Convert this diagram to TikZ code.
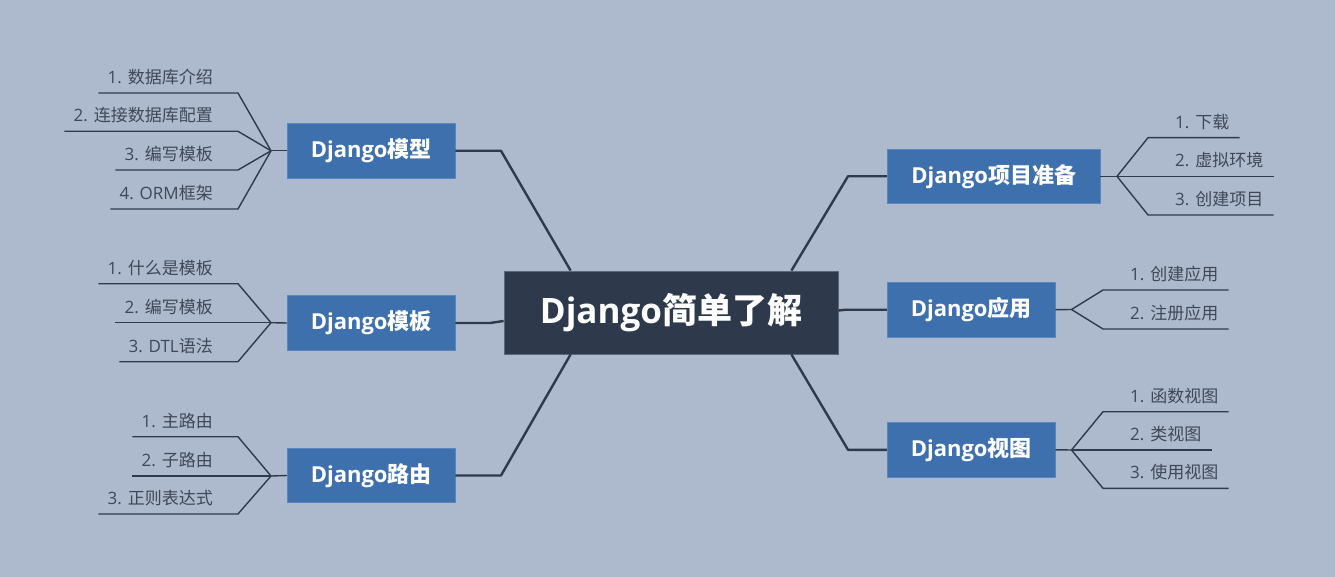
\documentclass[tikz,border=0pt]{standalone}
\usepackage{fontspec}
\setmainfont{Open Sans}
\newfontfamily\cjk{Noto Sans CJK SC}
\newcommand{\zhs}[1]{{\cjk #1}}
\usetikzlibrary{calc}
\definecolor{bg}{HTML}{ADBACE}
\definecolor{dark}{HTML}{2E3A4B}
\definecolor{darkedge}{HTML}{5B6879}
\definecolor{blue1}{HTML}{3F70AE}
\definecolor{blueedge}{HTML}{5A86BE}
\definecolor{ltxt}{HTML}{3E4858}
\definecolor{lline}{HTML}{2F3B4C}
\begin{document}
\begin{tikzpicture}[x=1pt,y=-1pt,
  root/.style={fill=dark, draw=darkedge, line width=0.8pt, minimum width=334pt, minimum height=83pt, text=white, font=\bfseries\fontsize{35}{40}\selectfont, inner sep=0pt},
  branch/.style={fill=blue1, draw=blueedge, line width=0.8pt, minimum height=54.5pt, text=white, font=\bfseries\fontsize{22}{26}\selectfont, inner sep=0pt},
  leaf/.style={text=ltxt, font=\fontsize{17}{20}\selectfont, inner sep=0pt},
  main/.style={draw=dark, line width=2.4pt, line join=round},
  sub/.style={draw=lline, line width=1.4pt, line join=round}]

\fill[bg] (0,0) rectangle (1335,577);

% root and branches
\node[root] (c) at (671,312.5) {Django\zhs{简单了解}};
\node[branch, minimum width=167.7pt] (bm) at (371.2,150.8) {Django\zhs{模型}};
\node[branch, minimum width=167.7pt] (bt) at (371.2,323) {Django\zhs{模板}};
\node[branch, minimum width=167.7pt] (br) at (371.2,475.5) {Django\zhs{路由}};
\node[branch, minimum width=212.7pt] (bp) at (993.7,176.3) {Django\zhs{项目准备}};
\node[branch, minimum width=167.7pt] (ba) at (971.2,309.7) {Django\zhs{应用}};
\node[branch, minimum width=167.7pt] (bv) at (971.2,449.8) {Django\zhs{视图}};

% main connectors
\draw[main] ([xshift=67pt]c.north west) -- (501,150.8) -- (bm.east);
\draw[main] ([yshift=-8.5pt]c.west) -- (490,323) -- (bt.east);
\draw[main] ([xshift=67pt]c.south west) -- (501,475.5) -- (br.east);
\draw[main] ([xshift=-47pt]c.north east) -- (848,176.3) -- (bp.west);
\draw[main] ([yshift=2pt]c.east) -- (846,309.7) -- (ba.west);
\draw[main] ([xshift=-47pt]c.south east) -- (848,449.8) -- (bv.west);

% junctions
\coordinate (jm) at (271,150.8);
\coordinate (jt) at (271,322.7);
\coordinate (jr) at (271,476);
\coordinate (jp) at (1117,176.3);
\coordinate (ja) at (1071.5,309.5);
\coordinate (jv) at (1071.5,450);

\draw[sub] (bm.west) -- (jm);
\draw[sub] (bt.west) -- (jt);
\draw[sub] (br.west) -- (jr);
\draw[sub] (bp.east) -- (jp);
\draw[sub] (ba.east) -- (ja);
\draw[sub] (bv.east) -- (jv);

% left leaves: Django模型
\node[leaf, anchor=base east] (m1) at (213,83.5) {1. \zhs{数据库介绍}};
\node[leaf, anchor=base east] (m2) at (213,121.8) {2. \zhs{连接数据库配置}};
\node[leaf, anchor=base east] (m3) at (213,160.5) {3. \zhs{编写模板}};
\node[leaf, anchor=base east] (m4) at (213,199.5) {4. ORM\zhs{框架}};
\foreach \n in {m1,m2,m3,m4}
  \draw[sub] (jm) -- ($(\n.base east)+(25,9.5)$) -- ($(\n.base west)+(-9,9.5)$);

% left leaves: Django模板
\node[leaf, anchor=base east] (t1) at (213,274.2) {1. \zhs{什么是模板}};
\node[leaf, anchor=base east] (t2) at (213,313.2) {2. \zhs{编写模板}};
\node[leaf, anchor=base east] (t3) at (213,352.2) {3. DTL\zhs{语法}};
\foreach \n in {t1,t2,t3}
  \draw[sub] (jt) -- ($(\n.base east)+(25,9.5)$) -- ($(\n.base west)+(-9,9.5)$);

% left leaves: Django路由
\node[leaf, anchor=base east] (r1) at (213,427.2) {1. \zhs{主路由}};
\node[leaf, anchor=base east] (r2) at (213,466.5) {2. \zhs{子路由}};
\node[leaf, anchor=base east] (r3) at (213,504.5) {3. \zhs{正则表达式}};
\foreach \n in {r1,r2,r3}
  \draw[sub] (jr) -- ($(\n.base east)+(25,9.5)$) -- ($(\n.base west)+(-9,9.5)$);

% right leaves: Django项目准备
\node[leaf, anchor=base west] (p1) at (1175,128.2) {1. \zhs{下载}};
\node[leaf, anchor=base west] (p2) at (1175,166.8) {2. \zhs{虚拟环境}};
\node[leaf, anchor=base west] (p3) at (1175,205.5) {3. \zhs{创建项目}};
\foreach \n in {p1,p2,p3}
  \draw[sub] (jp) -- ($(\n.base west)+(-27,9.5)$) -- ($(\n.base east)+(10,9.5)$);

% right leaves: Django应用
\node[leaf, anchor=base west] (a1) at (1130,280.5) {1. \zhs{创建应用}};
\node[leaf, anchor=base west] (a2) at (1130,319.5) {2. \zhs{注册应用}};
\foreach \n in {a1,a2}
  \draw[sub] (ja) -- ($(\n.base west)+(-27,9.5)$) -- ($(\n.base east)+(10,9.5)$);

% right leaves: Django视图
\node[leaf, anchor=base west] (v1) at (1130,402.2) {1. \zhs{函数视图}};
\node[leaf, anchor=base west] (v2) at (1130,440.5) {2. \zhs{类视图}};
\node[leaf, anchor=base west] (v3) at (1130,478.8) {3. \zhs{使用视图}};
\foreach \n in {v1,v2,v3}
  \draw[sub] (jv) -- ($(\n.base west)+(-27,9.5)$) -- ($(\n.base east)+(10,9.5)$);
\end{tikzpicture}
\end{document}
